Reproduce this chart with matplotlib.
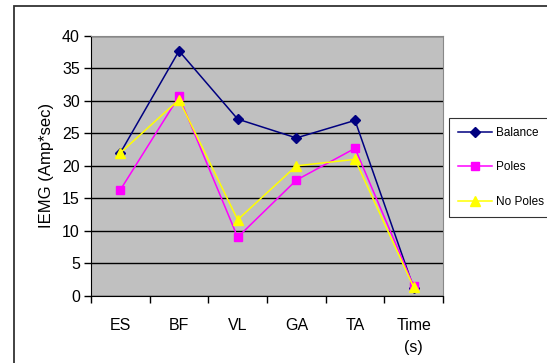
import numpy as np
import matplotlib
matplotlib.use('Agg')
import matplotlib.pyplot as plt
from matplotlib.patches import Rectangle

plt.rcParams['font.family'] = ['Liberation Sans', 'DejaVu Sans']

categories = ['ES', 'BF', 'VL', 'GA', 'TA', 'Time\n(s)']
balance = [22.0, 37.7, 27.2, 24.3, 27.0, 1.2]
poles = [16.3, 30.7, 9.0, 17.8, 22.7, 1.5]
no_poles = [22.0, 30.2, 11.7, 20.0, 21.0, 1.3]

W, H = 547, 363
fig = plt.figure(figsize=(W / 100, H / 100), dpi=100)
ax = fig.add_axes([91 / W, 1 - 295.7 / H, (443 - 91) / W, (295.7 - 36) / H])

# outer chart border (runs off right and bottom)
fig.patches.append(Rectangle((14 / W, -0.1), 1.2, 1 - 6 / H + 0.1, transform=fig.transFigure,
                             fill=False, edgecolor='#333333', lw=1.3))

x = np.arange(len(categories))
ax.set_facecolor('#C0C0C0')
ax.plot(x, balance, color='#000080', marker='D', ms=5.5, lw=1.1, label='Balance')
ax.plot(x, poles, color='#FF00FF', marker='s', ms=5.5, lw=1.1, label='Poles')
ax.plot(x, no_poles, color='#FFFF00', marker='^', ms=7, lw=1.1, label='No Poles')

ax.set_xlim(-0.5, len(categories) - 0.5)
ax.set_ylim(0, 40)
ax.set_yticks(np.arange(0, 41, 5))
ax.yaxis.grid(True, color='black', lw=1)
ax.set_axisbelow(True)

ax.set_xticks(x)
ax.set_xticklabels(categories, fontsize=11.5)
ax.tick_params(axis='x', length=0, pad=16)
ax.set_xticks(np.arange(-0.5, len(categories)), minor=True)
ax.tick_params(axis='x', which='minor', length=5, direction='out', width=1)
ax.tick_params(axis='y', labelsize=11.5, length=5, width=1, pad=3)
for lab in ax.get_xticklabels():
    lab.set_verticalalignment('top')
    lab.set_linespacing(1.55)

ax.spines['left'].set_color('black')
ax.spines['bottom'].set_color('black')
ax.spines['top'].set_color('#888888')
ax.spines['right'].set_color('#888888')

ax.set_ylabel('IEMG (Amp*sec)', fontsize=12, labelpad=6)

leg = ax.legend(loc='upper left', bbox_to_anchor=(449 / W, 1 - 118 / H), bbox_transform=fig.transFigure,
                borderaxespad=0, fontsize=8.5, frameon=True, fancybox=False, edgecolor='black',
                handlelength=2.9, labelspacing=1.9, borderpad=0.75, handletextpad=0.3)
leg.get_frame().set_linewidth(0.8)

fig.savefig('out.png', dpi=100)
